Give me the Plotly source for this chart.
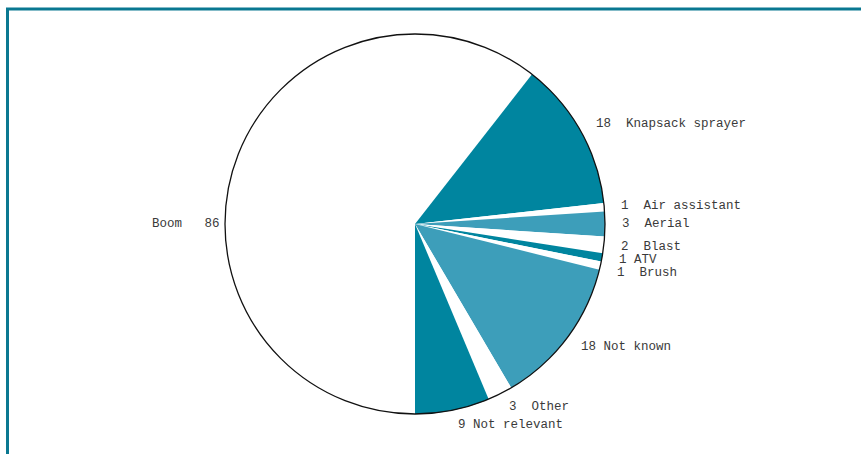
import math
import plotly.graph_objects as go

# Sprayer types and number of responses
categories = ["Boom", "Knapsack sprayer", "Air assistant", "Aerial", "Blast",
              "ATV", "Brush", "Not known", "Other", "Not relevant"]
counts = [86, 18, 1, 3, 2, 1, 1, 18, 3, 9]
label_texts = ["Boom   86", "18  Knapsack sprayer", "1  Air assistant", "3  Aerial",
               "2  Blast", "1 ATV", "1  Brush", "18 Not known", "3  Other", "9 Not relevant"]

DARK = "#00859F"
LIGHT = "#3D9EBA"
WHITE = "#FFFFFF"
slice_colors = [WHITE, DARK, WHITE, LIGHT, WHITE, DARK, WHITE, LIGHT, WHITE, DARK]

W, H = 861, 454
cx, cy, r = 415, 224, 190
start_deg = 180  # first slice starts at 6 o'clock, going clockwise

fig = go.Figure(go.Pie(
    labels=categories,
    values=counts,
    sort=False,
    direction="clockwise",
    rotation=start_deg,
    marker=dict(colors=slice_colors, line=dict(width=0)),
    textinfo="none",
    hoverinfo="label+value",
    showlegend=False,
    domain=dict(x=[(cx - r) / W, (cx + r) / W],
                y=[(H - (cy + r)) / H, (H - (cy - r)) / H]),
))

# Outer outline of the pie
shapes = [dict(type="circle", xref="paper", yref="paper",
               x0=(cx - r) / W, x1=(cx + r) / W,
               y0=(H - (cy + r)) / H, y1=(H - (cy - r)) / H,
               line=dict(color="#111111", width=1.3), fillcolor="rgba(0,0,0,0)")]

# Frame along the top and left
shapes.append(dict(type="path", xref="paper", yref="paper",
                   path=f"M {7.5/W} 0 L {7.5/W} {1 - 9/H} L 1 {1 - 9/H}",
                   line=dict(color="#0A7891", width=3)))

# Slice labels placed just outside the rim at each slice's mid-angle
total = sum(counts)
angle_override = {"Boom": 270}
label_r = 205
min_gap = 13
placed = []
acc = 0
for cat, val, txt in zip(categories, counts, label_texts):
    mid = start_deg + 360 * (acc + val / 2) / total
    acc += val
    mid = angle_override.get(cat, mid)
    a = math.radians(mid)
    left_side = math.sin(a) < 0
    rr = r + 3 if left_side else label_r
    placed.append([cx + rr * math.sin(a), cy - rr * math.cos(a), left_side, txt])

# push crowded right-side labels apart vertically
right = sorted([p for p in placed if not p[2]], key=lambda p: p[1])
for prev, cur in zip(right, right[1:]):
    if cur[1] - prev[1] < min_gap:
        cur[1] = prev[1] + min_gap

annotations = []
for px, py, left_side, txt in placed:
    annotations.append(dict(
        x=px / W, y=1 - py / H, xref="paper", yref="paper",
        text=txt.replace(" ", "&nbsp;"), showarrow=False,
        xanchor="right" if left_side else "left", yanchor="middle",
        font=dict(family="Liberation Mono, Courier New, monospace", size=12.5, color="#3a3a3a"),
    ))

fig.update_layout(
    width=W, height=H,
    margin=dict(l=0, r=0, t=0, b=0),
    paper_bgcolor="white", plot_bgcolor="white",
    shapes=shapes, annotations=annotations,
)

fig.write_html("out.html")
